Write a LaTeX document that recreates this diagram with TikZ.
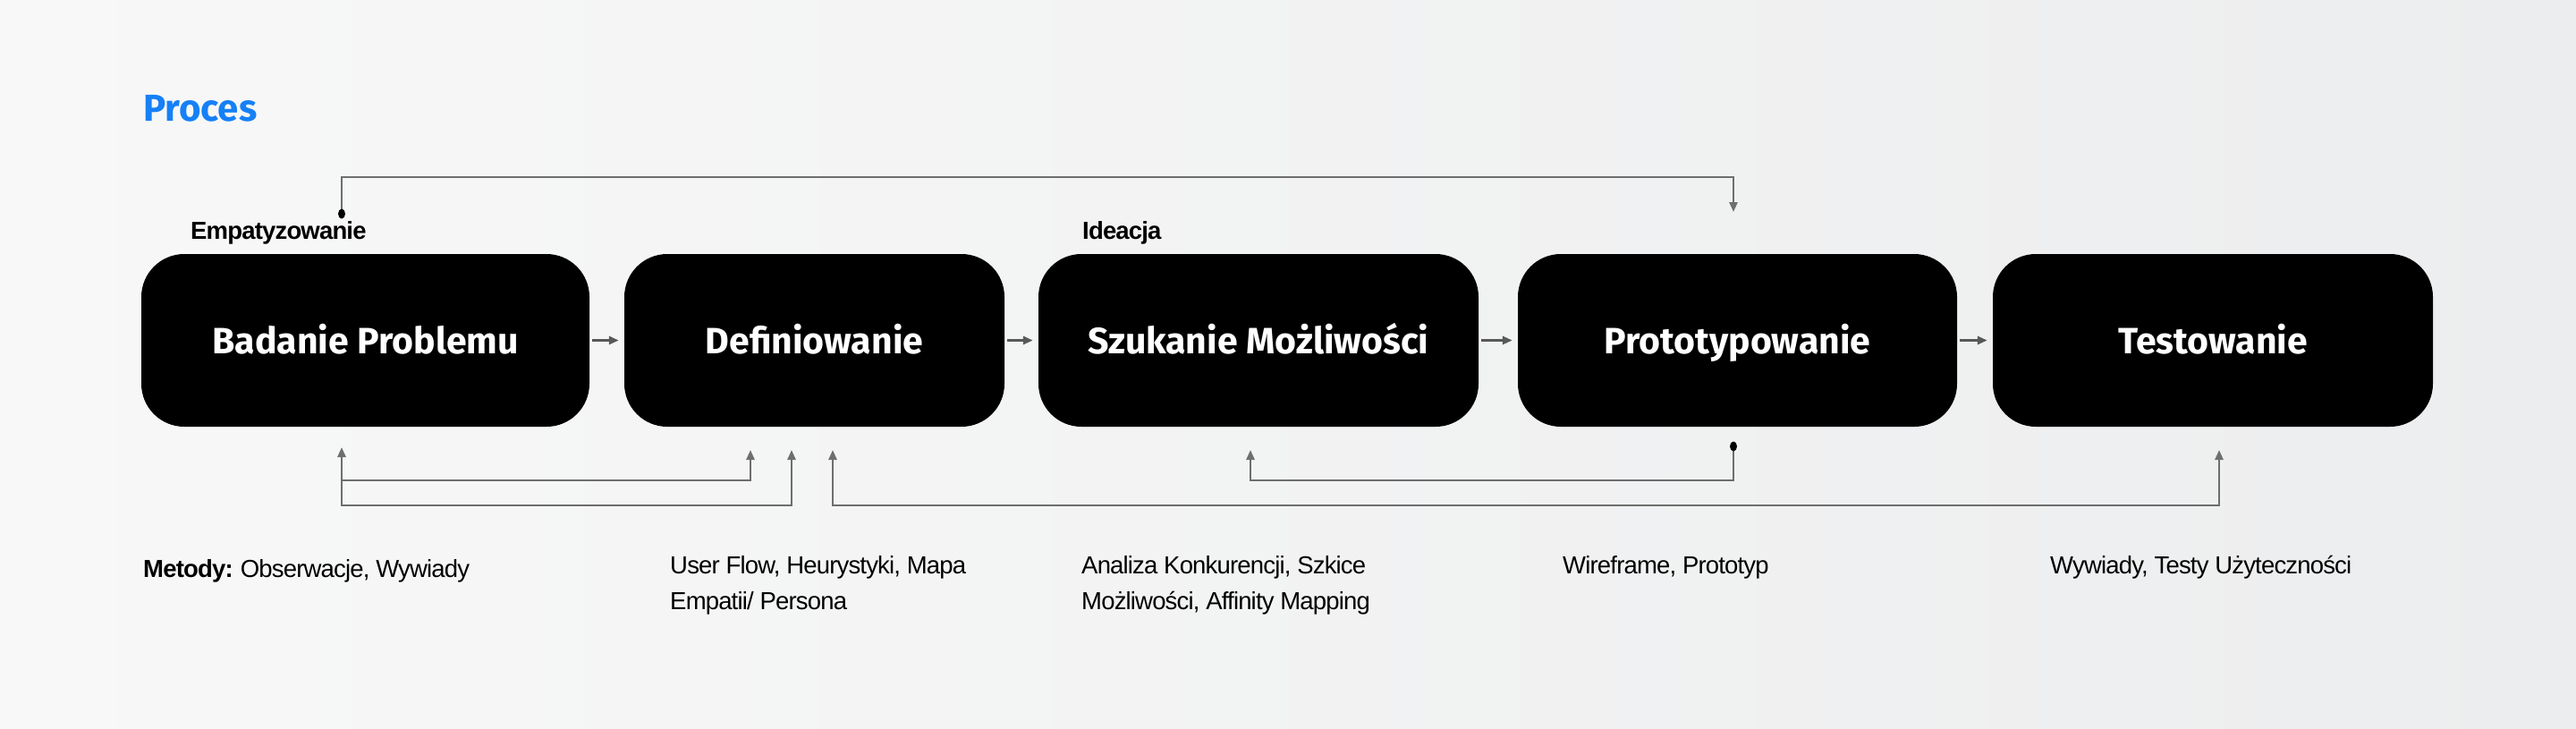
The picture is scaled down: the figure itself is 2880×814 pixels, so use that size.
\documentclass[tikz,border=0pt]{standalone}
\usepackage{fontspec}
\setmainfont{Liberation Sans}
\newfontfamily\boxfont{Fira Sans}
\usetikzlibrary{arrows.meta}
\definecolor{bgleft}{RGB}{248,248,248}
\definecolor{bgright}{RGB}{236,237,238}
\definecolor{linegray}{RGB}{110,110,110}
\definecolor{procblue}{RGB}{22,128,246}
\begin{document}
\begin{tikzpicture}[x=1pt,y=-1pt,
  >={Triangle[length=11pt,width=9pt]},
  stage/.style={fill=black, rounded corners=48pt, minimum height=193pt, inner sep=0pt,
    text=white, text height=29pt, text depth=0pt,
    font=\boxfont\bfseries\fontsize{41}{45}\selectfont},
  conn/.style={draw=linegray, line width=2.5pt},
  flow/.style={draw=linegray!80!black, line width=3pt, shorten <=3pt, shorten >=6pt},
  phase/.style={anchor=base west, inner sep=0pt, font=\bfseries\addfontfeature{LetterSpace=-3}\fontsize{27.5}{30}\selectfont},
  method/.style={anchor=base west, align=left, inner sep=0pt,
    font=\addfontfeature{LetterSpace=-3}\fontsize{27.5}{40}\selectfont},
  dot/.style={fill=black}
]
\useasboundingbox (0,0) rectangle (2880,814);
\shade[left color=bgleft, right color=bgright] (0,0) rectangle (2880,814);

% title
\node[anchor=base west, inner sep=0pt, text=procblue, font=\boxfont\bfseries\fontsize{42}{46}\selectfont] (title) at (160,135) {Proces};

% phase labels
\node[phase] (emp) at (213,267) {Empatyzowanie};
\node[phase] (ide) at (1210,267) {Ideacja};

% stages
\node[stage, minimum width=501pt] (b1) at (408.5,380.5) {Badanie Problemu};
\node[stage, minimum width=425pt] (b2) at (910.5,380.5) {Definiowanie};
\node[stage, minimum width=492pt] (b3) at (1407,380.5) {Szukanie Możliwości};
\node[stage, minimum width=491pt] (b4) at (1942.5,380.5) {Prototypowanie};
\node[stage, minimum width=492pt] (b5) at (2474,380.5) {Testowanie};

% flow arrows
\draw[flow,->] (b1) -- (b2);
\draw[flow,->] (b2) -- (b3);
\draw[flow,->] (b3) -- (b4);
\draw[flow,->] (b4) -- (b5);

% top loop
\coordinate (t1) at (382,239);
\coordinate (t2) at (1938,237);
\coordinate (ttop) at (0,198);
\draw[conn,->] (t1) -- (t1 |- ttop) -- (t2 |- ttop) -- (t2);
\fill[dot] (t1) ellipse (4pt and 5.5pt);

% bottom loops
\coordinate (a1) at (382,500);
\coordinate (a2) at (839,503);
\coordinate (a3) at (885,503);
\coordinate (a4) at (931,503);
\coordinate (a5) at (2481,503);
\coordinate (a6) at (1938,499);
\coordinate (a7) at (1398,503);
\coordinate (h1) at (0,537);
\coordinate (h2) at (0,565);
\draw[conn,<->] (a1) -- (a1 |- h1) -- (a2 |- h1) -- (a2);
\draw[conn,->] (a1 |- h1) -- (a1 |- h2) -- (a3 |- h2) -- (a3);
\draw[conn,<->] (a4) -- (a4 |- h2) -- (a5 |- h2) -- (a5);
\draw[conn,->] (a6) -- (a6 |- h1) -- (a7 |- h1) -- (a7);
\fill[dot] (a6) ellipse (4pt and 5.5pt);

% methods
\node[method] (m1) at (160,645) {\textbf{Metody:} Obserwacje, Wywiady};
\node[method] (m2) at (749,681) {User Flow, Heurystyki, Mapa\\Empatii/ Persona};
\node[method] (m3) at (1209,681) {Analiza Konkurencji, Szkice\\Możliwości, Affinity Mapping};
\node[method] (m4) at (1747,641) {Wireframe, Prototyp};
\node[method] (m5) at (2292,641) {Wywiady, Testy Użyteczności};
\end{tikzpicture}
\end{document}
